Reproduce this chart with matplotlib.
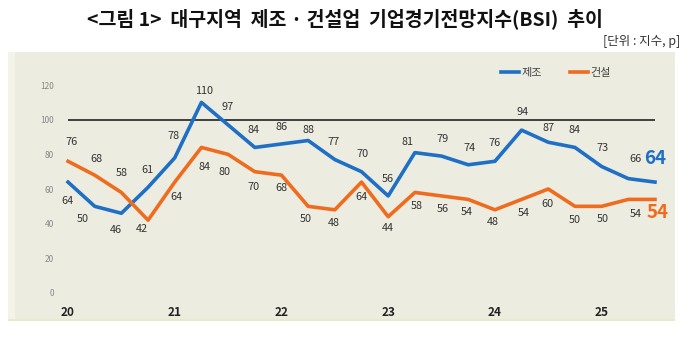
import matplotlib
matplotlib.use('Agg')
import matplotlib.pyplot as plt
from matplotlib.patches import Rectangle

plt.rcParams['font.family'] = ['Noto Sans CJK KR', 'DejaVu Sans']

# 분기별 BSI (2020 1Q ~ 2025 3Q)
manuf = [64, 50, 46, 61, 78, 110, 97, 84, 86, 88, 77, 70,
         56, 81, 79, 74, 76, 94, 87, 84, 73, 66, 64]
constr = [76, 68, 58, 42, 64, 84, 80, 70, 68, 50, 48, 64,
          44, 58, 56, 54, 48, 54, 60, 50, 50, 54, 54]
years = ['20', '21', '22', '23', '24', '25']
yticks = [0, 20, 40, 60, 80, 100, 120]

BLUE = '#1F6FC5'
ORANGE = '#EF6C1E'
PANEL = '#ECECE1'

# label offsets in pixels (dx, dy)
manuf_off = [(-1, -19), (-12, -13), (-6, -17), (-1, 17), (-1, 22), (3, 11),
             (0, 18), (-1, 17), (0, 17), (0, 11), (-1, 18), (1, 18),
             (0, 17), (-7, 11), (1, 17), (1, 17), (0, 18), (1, 18),
             (0, 14), (0, 17), (1, 18), (7, 20)]
constr_off = [(4, 19), (2, 16), (0, 19), (-6, -9), (2, -15), (3, -20),
              (-4, -18), (-1, -15), (0, -13), (-2, -13), (-1, -13), (0, -15),
              (0, -11), (2, -14), (1, -13), (-1, -13), (-2, -12), (2, -14),
              (-1, -15), (0, -14), (1, -13), (7, -15)]

fig = plt.figure(figsize=(6.89, 3.39), dpi=100)
fig.patch.set_facecolor('white')

ax = fig.add_axes([8 / 689, 18 / 339, 667 / 689, 269 / 339])
ax.set_facecolor(PANEL)
for s in ax.spines.values():
    s.set_visible(False)

x = list(range(len(manuf)))
ax.set_xlim(-2.25, len(manuf) - 1 + 0.75)
ax.set_ylim(-16.2, 139.1)

# lighter strip on the left and light border at the bottom
ax.add_patch(Rectangle((0, 0), 7 / 667, 1, transform=ax.transAxes,
                       facecolor='#F3F3E8', edgecolor='none', zorder=0))
ax.add_patch(Rectangle((0, 0), 1, 2 / 269, transform=ax.transAxes,
                       facecolor='#E6ECC8', edgecolor='none', zorder=0))

ax.hlines(100, x[0], x[-1], color='#222222', linewidth=1.2, zorder=1)

ax.plot(x, manuf, color=BLUE, linewidth=2.6, solid_joinstyle='round',
        label='제조', zorder=3)
ax.plot(x, constr, color=ORANGE, linewidth=2.6, solid_joinstyle='round',
        label='건설', zorder=3)

for i, v in enumerate(manuf[:-1]):
    ax.annotate(str(v), (x[i], v), xytext=manuf_off[i], textcoords='offset pixels',
                ha='center', va='center', fontsize=7.8, color='#333333')
for i, v in enumerate(constr[:-1]):
    ax.annotate(str(v), (x[i], v), xytext=constr_off[i], textcoords='offset pixels',
                ha='center', va='center', fontsize=7.8, color='#333333')

# last values emphasised
ax.annotate(str(manuf[-1]), (x[-1], manuf[-1]), xytext=(0, 24),
            textcoords='offset pixels', ha='center', va='center',
            fontsize=13.5, fontweight='bold', color=BLUE)
ax.annotate(str(constr[-1]), (x[-1], constr[-1]), xytext=(3, -13),
            textcoords='offset pixels', ha='center', va='center',
            fontsize=13.5, fontweight='bold', color=ORANGE)

ax.set_xticks(x[::4])
ax.set_xticklabels(years, fontsize=8.5, fontweight='bold', color='#222222')
ax.set_yticks(yticks)
ax.set_yticklabels([str(t) for t in yticks], fontsize=6, color='#888888')
ax.tick_params(axis='y', length=0, pad=-33)
ax.tick_params(axis='x', length=0, pad=-11)

leg = ax.legend(loc='center', bbox_to_anchor=(556 / 689, 1 - 73 / 339),
                bbox_transform=fig.transFigure, ncol=2, frameon=False,
                fontsize=8, handlelength=1.6, handletextpad=0.2,
                columnspacing=2.6)
for t in leg.get_texts():
    t.set_color('#444444')

fig.text(345 / 689, 1 - 19 / 339,
         '<그림 1>  대구지역  제조 · 건설업  기업경기전망지수(BSI)  추이',
         ha='center', va='center', fontsize=14, fontweight='bold',
         color='#111111')
fig.text(680 / 689, 1 - 41 / 339, '[단위 : 지수, p]', ha='right', va='center',
         fontsize=9, color='#333333')

fig.savefig('out.png', dpi=100, facecolor=fig.get_facecolor())
